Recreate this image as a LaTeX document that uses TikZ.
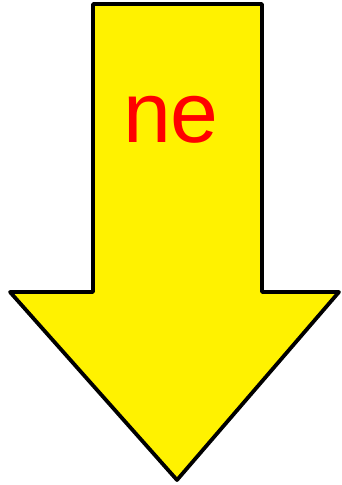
\documentclass[tikz,border=0pt]{standalone}
\usepackage{fontspec}
\setmainfont{Liberation Sans}
\begin{document}
\begin{tikzpicture}[x=1pt,y=1pt,
  arrowshape/.style={draw=black,fill=yellow,line width=3.8pt,line join=round},
  lbl/.style={text=red,font=\fontsize{86}{90}\selectfont,inner sep=0pt,anchor=base}]
\useasboundingbox (0,0) rectangle (342,485);
\draw[arrowshape] (93,481) -- (262,481) -- (262,193) -- (339,193) -- (177,5) -- (10,193) -- (93,193) -- cycle;
\node[lbl] (t) at (171,342) {ne};
\end{tikzpicture}
\end{document}
